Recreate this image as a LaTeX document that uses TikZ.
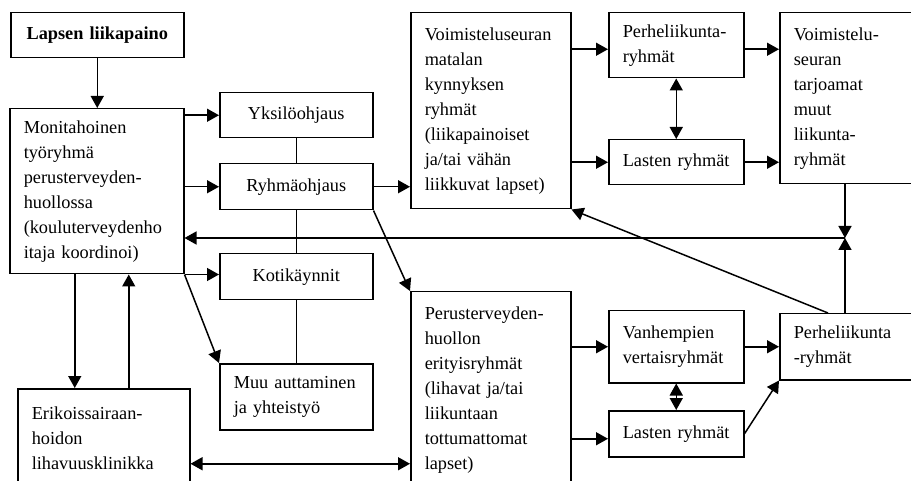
\documentclass[tikz,border=0pt]{standalone}
\usepackage{fontspec}
\setmainfont{Liberation Serif}
\usetikzlibrary{arrows.meta}
\hyphenpenalty=10000

\begin{document}
\begin{tikzpicture}[x=1pt, y=-1pt, line width=1.5pt,
  >={Triangle[length=12pt,width=13pt]},
  box/.style={draw, anchor=north west, inner xsep=14pt, inner ysep=0pt,
    align=left, font=\fontsize{18.3}{25}\selectfont},
  cbox/.style={box, align=center}]
\path[use as bounding box, clip] (0,0) rectangle (911,481);

\draw (10, 12) node[cbox, text width=145pt, minimum height=45pt] (lapsen)
  {\textbf{Lapsen liikapaino}};
\draw (9, 108) node[box, text width=146pt, minimum height=165pt] (monit)
  {Monitahoinen\\työryhmä\\perusterveyden-\\huollossa\\(kouluterveydenho\\itaja koordinoi)};
\draw (219, 92) node[cbox, text width=125pt, minimum height=45pt] (yksilo) {Yksilöohjaus};
\draw (219, 163) node[cbox, text width=125pt, minimum height=46pt] (ryhma) {Ryhmäohjaus};
\draw (219, 253) node[cbox, text width=125pt, minimum height=46pt] (koti) {Kotikäynnit};
\draw (219, 363) node[box, text width=125pt, minimum height=66pt] (muu)
  {Muu auttaminen\\ja yhteistyö};
\draw (17, 388) node[box, text width=144pt, minimum height=98pt] (erikois)
  {Erikoissairaan-\\hoidon\\lihavuusklinikka};
\draw (410, 12) node[box, text width=132pt, minimum height=196pt] (voim)
  {Voimisteluseuran\\matalan\\kynnyksen\\ryhmät\\(liikapainoiset\\ja/tai vähän\\liikkuvat lapset)};
\draw (410, 291) node[box, text width=132pt, minimum height=196pt] (perus)
  {Perusterveyden-\\huollon\\erityisryhmät\\(lihavat ja/tai\\liikuntaan\\tottumattomat\\lapset)};
\draw (608, 12) node[box, text width=107pt, minimum height=65pt] (perhe)
  {Perheliikunta-\\ryhmät};
\draw (608, 139) node[box, text width=107pt, minimum height=45pt] (lasten1) {Lasten ryhmät};
\draw (608, 310) node[box, text width=107pt, minimum height=72pt] (vanh)
  {Vanhempien\\vertaisryhmät};
\draw (608, 410) node[box, text width=107pt, minimum height=46pt] (lasten2) {Lasten ryhmät};
\draw (779, 12) node[box, text width=108pt, minimum height=171pt] (tarj)
  {Voimistelu-\\seuran\\tarjoamat\\muut\\liikunta-\\ryhmät};
\draw (779, 313) node[box, text width=108pt, minimum height=66pt] (perheryh)
  {Perheliikunta\\-ryhmät};

\coordinate (jn) at (845, 238);
\coordinate (dn) at ([xshift=-22pt]monit.south);
\coordinate (up) at ([xshift=32pt]monit.south);
\coordinate (lo) at ([yshift=-26pt]erikois.east);
\coordinate (pv) at ([yshift=-4pt]perhe.west);
\coordinate (pl) at ([yshift=-5pt]lasten2.west);

\draw[->] (lapsen.south) -- (lapsen.south |- monit.north);
\draw[->] (monit.east |- yksilo.west) -- (yksilo.west);
\draw[->] (monit.east |- ryhma.west) -- (ryhma.west);
\draw[->] (monit.south east) -- (monit.south east -| koti.west);
\draw[->] (monit.south east) -- (muu.north west);
\draw (yksilo.south) -- (ryhma.north);
\draw (ryhma.south) -- (koti.north);
\draw (koti.south) -- (muu.north);
\draw[->] (dn) -- (dn |- erikois.north);
\draw[->] (up |- erikois.north) -- (up);
\draw[<->] (lo) -- (lo -| perus.west);
\draw[->] (ryhma.east) -- (ryhma.east -| voim.west);
\draw[->] (ryhma.south east) -- (perus.north west);
\draw[->] (pv -| voim.east) -- (pv);
\draw[->] (voim.east |- lasten1.west) -- (lasten1.west);
\draw[<->] (perhe.south) -- (lasten1.north);
\draw[->] (pv -| perhe.east) -- (pv -| tarj.west);
\draw[->] (lasten1.east) -- (lasten1.east -| tarj.west);
\draw[->] (tarj.south -| jn) -- (jn);
\draw[->] (perheryh.north -| jn) -- (jn);
\draw[->] (jn) -- (jn -| monit.east);
\draw[->] ([xshift=49pt]perheryh.north west) -- (voim.south east);
\draw[->] (perus.east |- vanh.west) -- (vanh.west);
\draw[->] (pl -| perus.east) -- (pl);
\draw[<->] (vanh.south) -- (lasten2.north);
\draw[->] (vanh.east) -- (vanh.east -| perheryh.west);
\draw[->] (lasten2.east) -- (perheryh.south west);
\end{tikzpicture}
\end{document}
